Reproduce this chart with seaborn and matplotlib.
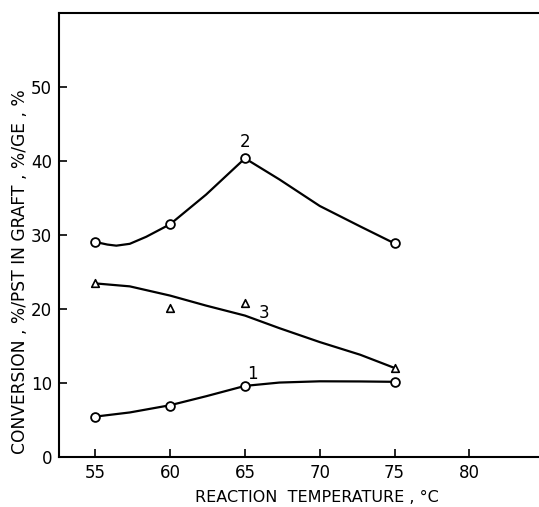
import matplotlib
matplotlib.use("Agg")
import matplotlib.pyplot as plt
import seaborn as sns
import pandas as pd

# ---- data ----
temps = [55, 60, 65, 75]
conversion = [5.5, 7.0, 9.65, 10.2]          # curve 1 (circles)
pst_in_graft = [29.1, 31.5, 40.4, 28.9]      # curve 2 (circles)
grafting_eff = [23.55, 20.2, 20.8, 12.05]    # curve 3 (triangles)

# hand-drawn smooth curves
curve1_x = [55, 57.3, 60, 62.4, 65, 67.3, 70, 72.7, 75]
curve1_y = [5.5, 6.06, 7.04, 8.25, 9.65, 10.1, 10.27, 10.25, 10.2]
curve2_x = [55, 55.8, 56.4, 57.3, 58.4, 60, 62.4, 65, 67.3, 70, 72.7, 75]
curve2_y = [29.1, 28.75, 28.6, 28.85, 29.8, 31.5, 35.5, 40.4, 37.55, 33.96, 31.2, 28.9]
curve3_x = [55, 57.3, 60, 62.4, 65, 67.3, 70, 72.7, 75]
curve3_y = [23.5, 23.1, 21.85, 20.5, 19.15, 17.45, 15.57, 13.86, 12.07]

curve_labels = ["1", "2", "3"]
label_x = [65.5, 65.0, 66.3]
label_y = [11.2, 42.6, 19.5]

x_ticks = [55, 60, 65, 70, 75, 80]
y_ticks = [0, 10, 20, 30, 40, 50]
x_label = "REACTION  TEMPERATURE , °C"
y_label = "CONVERSION , %/PST IN GRAFT , %/GE , %"

# ---- plotting ----
sns.set_style("ticks")
plt.rcParams['font.family'] = ['Liberation Sans Narrow', 'DejaVu Sans']
for key in ["text.color", "axes.labelcolor", "xtick.color", "ytick.color",
            "axes.edgecolor", "xtick.labelcolor", "ytick.labelcolor"]:
    plt.rcParams[key] = "black"

fig = plt.figure(figsize=(5.39, 5.07), dpi=100)
ax = fig.add_axes([59/539, 1 - 457.3/507, (539 - 59)/539, (457.3 - 13.3)/507])

lines = pd.concat([
    pd.DataFrame({"T": curve1_x, "v": curve1_y, "c": "1"}),
    pd.DataFrame({"T": curve2_x, "v": curve2_y, "c": "2"}),
    pd.DataFrame({"T": curve3_x, "v": curve3_y, "c": "3"}),
])
for c in ["1", "2", "3"]:
    sns.lineplot(data=lines[lines.c == c], x="T", y="v", ax=ax, color="black",
                 linewidth=1.6, sort=False, estimator=None, zorder=2)

circ = pd.DataFrame({"T": temps + temps, "v": conversion + pst_in_graft})
tri = pd.DataFrame({"T": temps, "v": grafting_eff})
sns.scatterplot(data=circ, x="T", y="v", ax=ax, marker="o", s=40,
                facecolor="white", edgecolor="black", linewidth=1.3, zorder=3)
sns.scatterplot(data=tri, x="T", y="v", ax=ax, marker="^", s=30,
                facecolor="white", edgecolor="black", linewidth=1.2, zorder=3)

for t, lx, ly in zip(curve_labels, label_x, label_y):
    ax.text(lx, ly, t, fontsize=12, ha="center", va="center", color="black")

ax.set_xlim(52.57, 84.65)
ax.set_ylim(0, 60)
ax.set_xticks(x_ticks)
ax.set_yticks(y_ticks)
ax.tick_params(direction="in", length=6, width=1.2, labelsize=12, pad=5,
               color="black", labelcolor="black")
for s in ["left", "bottom", "top"]:
    ax.spines[s].set_linewidth(1.5)
    ax.spines[s].set_color("black")
ax.spines["right"].set_visible(False)

ax.set_xlabel(x_label, fontsize=11.5, color="black")
ax.set_ylabel(y_label, fontsize=12.3, color="black")
ax.xaxis.set_label_coords((317 - 59) / 480, (457.3 - 497.7) / 444)
ax.xaxis.label.set_va("center")
ax.yaxis.set_label_coords((20 - 59) / 480, (457.3 - 272) / 444)
ax.yaxis.label.set_va("center")

fig.savefig("out.png", dpi=100)
